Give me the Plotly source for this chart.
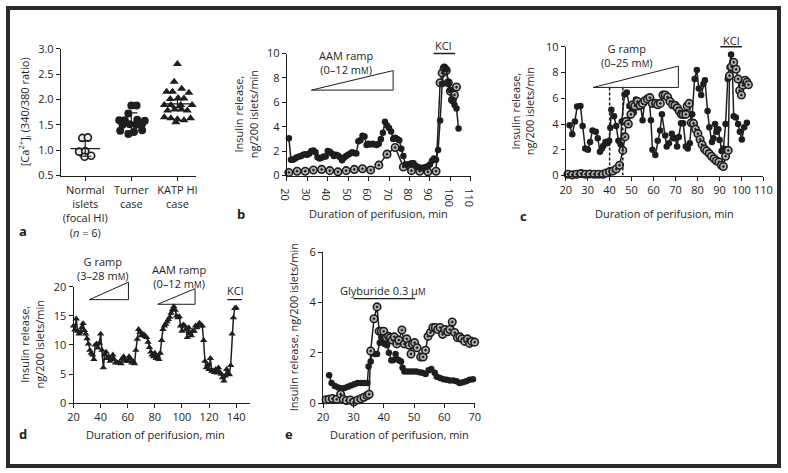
import plotly.graph_objects as go

W, H = 788, 473
INK = "#1e1e1e"
FONT = "Open Sans"

# ---------------- data ----------------
# panel a
a_categories = ["Normal<br>islets<br>(focal HI)<br>(<i>n</i> = 6)", "Turner<br>case", "KATP HI<br>case"]
a_normal = [1.24, 1.25, 0.97, 0.98, 0.87, 0.89]
a_normal_dx = [-0.064, 0.057, -0.134, 0.0, -0.014, 0.128]
a_turner = [1.88, 1.88, 1.72, 1.59, 1.59, 1.60, 1.58, 1.50, 1.51, 1.50, 1.52, 1.38, 1.36, 1.39, 1.32]
a_turner_dx = [0.0, 0.113, -0.064, -0.262, -0.142, 0.128, 0.291, -0.191, -0.035, 0.106, 0.234, -0.241, 0.057, 0.234, -0.064]
a_katp = [2.70, 2.35, 2.21, 2.15, 2.15, 2.13, 2.03, 2.02, 2.01, 1.89, 1.89, 1.89, 1.89,
          1.78, 1.80, 1.80, 1.78, 1.65, 1.63, 1.61, 1.59, 1.63, 1.55]
a_katp_dx = [0.0, -0.071, 0.092, -0.234, -0.106, 0.248, 0.014, 0.142, -0.156, -0.284, -0.142, 0.071, 0.319,
             -0.213, -0.057, 0.085, 0.213, -0.284, -0.142, 0.0, 0.142, 0.284, -0.035]
a_mean = [1.03, 1.545, 1.91]
a_bar_hi = [1.18, 1.735, 1.99]
a_bar_lo = [0.88, 1.375, 1.84]

# panel b
b_t_filled = list(range(21, 105))
b_filled = [3.05, 1.3, 1.3, 1.4, 1.5, 1.55, 1.6, 1.7, 1.75, 1.7,
            1.8, 2.0, 2.05, 1.9, 1.5, 1.4, 1.45, 1.55, 1.55, 2.0,
            1.95, 1.8, 1.6, 1.7, 1.65, 1.5, 1.25, 1.45, 1.6, 1.7,
            1.8, 1.9, 1.85, 1.8, 2.8, 2.9, 3.25, 3.2, 2.5, 2.6,
            2.55, 2.6, 2.55, 2.5, 2.6, 3.0, 3.5, 4.4, 4.1, 3.9,
            3.6, 3.0, 3.1, 3.0, 2.9, 2.2, 1.6, 0.9, 0.9, 0.95,
            1.0, 1.0, 0.8, 0.7, 0.65, 0.6, 0.65, 0.7, 0.75, 0.9,
            1.2, 1.4, 1.3, 2.1, 4.5, 7.5, 8.9, 8.7, 7.6, 7.0,
            6.2, 5.8, 5.5, 3.85]
b_t_open = [21, 25, 29, 33, 37, 41, 45, 49, 53, 57, 61, 65, 69, 73, 77, 81, 85, 89, 93,
            95, 96, 97, 98, 99, 100, 101, 102, 103]
b_open = [0.25, 0.35, 0.35, 0.45, 0.5, 0.4, 0.3, 0.4, 0.5, 0.55, 0.45, 0.85, 1.75, 2.3, 0.7, 0.4, 0.35, 0.3, 0.35,
          7.6, 8.4, 8.8, 8.6, 7.6, 6.9, 6.2, 6.6, 7.25]

# panel c
c_t_filled = [21.8, 23, 24.2, 25.2, 26.7, 27.7, 28.9, 30.1, 31.1, 32.2,
              33.7, 34.6, 35.6, 36.5, 37.1, 38.1, 39, 39.8, 40.3, 40.8,
              42, 43, 44, 45, 45.5, 46.8, 47.8, 49, 50, 51,
              52, 53, 54, 55, 56, 57, 58, 58.8, 59.5, 60.8,
              61.9, 63, 63.8, 65.3, 66, 67, 68.3, 69.2, 70, 70.7,
              71.5, 72.5, 73.5, 74.7, 75.6, 76.5, 77.6, 78.7, 79.7, 80.6,
              81.7, 82.7, 83.4, 84.6, 85.4, 86.6, 87.3, 88, 88.8, 89.5,
              90.1, 91, 91.8, 92.8, 93.8, 94.6, 95.3, 95.8, 96.5, 97.5,
              98.5, 99.3, 100.2, 101.3, 102.5]
c_filled = [3.9, 3.2, 4.2, 5.35, 5.4, 3.85, 2.1, 2.0, 2.6, 3.5,
            3.4, 2.9, 1.85, 2.1, 2.3, 2.6, 2.5, 2.7, 3.7, 5.1,
            4.6, 3.85, 2.7, 2.4, 4.2, 6.3, 6.45, 5.4, 5.3, 4.9,
            5.9, 5.3, 5.5, 4.3, 5.8, 5.9, 6.0, 4.3, 2.0, 1.6,
            2.7, 3.5, 4.75, 3.1, 2.25, 2.5, 3.25, 2.9, 2.9, 2.25,
            3.0, 4.05, 4.05, 2.25, 2.1, 2.5, 4.75, 7.5, 8.2, 6.75,
            6.25, 7.1, 7.4, 5.0, 3.75, 2.6, 2.9, 4.0, 3.4, 3.6,
            2.75, 1.9, 2.1, 4.0, 7.5, 8.4, 9.4, 8.75, 4.6, 4.5,
            4.0, 3.4, 2.8, 3.75, 4.1]
c_t_open = [21, 23, 25, 27, 29, 31, 33, 35, 37, 38.5,
            40, 41.5, 43, 44.5, 46, 47, 47.5, 48.5, 49.7, 50.5,
            51.5, 52.7, 53.9, 55, 56, 57.2, 58.3, 59.4, 60.9, 61.9,
            63.1, 64.3, 65.3, 66.4, 67.5, 68.7, 69.8, 70.8, 71.7, 72.7,
            73.5, 74.7, 75.3, 76.2, 77.2, 78.2, 79.1, 80.2, 81.2, 82.1,
            83.2, 84.2, 85.4, 86.4, 87.6, 88.6, 89.8, 90.9, 91.8, 92.8,
            94, 94.6, 95.5, 96.5, 97.6, 98.5, 99.2, 100, 100.7, 101.7,
            102.5, 103.2]
c_open = [0.1, 0.05, 0.1, 0.15, 0.1, 0.12, 0.1, 0.1, 0.1, 0.2,
          0.3, 0.35, 0.5, 0.8, 1.95, 3.0, 4.2, 4.0, 4.75, 5.5,
          5.4, 5.75, 5.45, 5.6, 5.8, 5.95, 6.05, 5.6, 5.6, 5.5,
          5.6, 6.25, 6.25, 6.1, 5.75, 5.5, 5.45, 5.25, 5.0, 4.75,
          4.75, 4.75, 5.4, 5.6, 4.1, 4.05, 3.6, 3.25, 2.8, 2.4,
          2.05, 1.9, 1.7, 1.5, 1.3, 1.15, 1.05, 0.8, 0.7, 1.5,
          1.95, 7.75, 8.45, 8.8, 8.25, 7.5, 6.6, 6.25, 7.0, 7.4,
          7.25, 7.05]

# panel d
d_t = list(range(20, 141))
d_vals = [13.3, 12.6, 14.5, 12.4, 11.9, 12.2, 13.0, 13.7, 12.5, 11.9,
          11.1, 10.2, 9.1, 8.6, 8.3, 7.5, 10.0, 10.2, 9.5, 10.3,
          11.9, 9.1, 6.1, 8.3, 8.8, 7.7, 8.0, 7.2, 7.5, 8.3,
          7.5, 6.9, 7.0, 6.9, 7.0, 6.8, 7.7, 8.0, 7.4, 7.2,
          7.2, 8.0, 7.6, 6.9, 7.2, 6.8, 9.1, 11.0, 12.7, 12.2,
          11.6, 11.9, 11.8, 11.5, 11.3, 10.5, 9.6, 8.8, 8.3, 8.0,
          8.6, 7.7, 8.0, 7.5, 8.6, 10.8, 12.7, 13.3, 13.6, 14.0,
          14.4, 14.8, 15.5, 16.1, 16.6, 16.0, 15.0, 14.7, 14.9, 13.3,
          12.4, 13.5, 13.3, 12.7, 11.3, 13.0, 12.0, 11.6, 12.4, 12.4,
          13.3, 13.0, 13.5, 13.8, 13.3, 13.3, 10.8, 7.2, 6.1, 6.6,
          5.8, 7.7, 5.5, 5.6, 5.3, 5.8, 5.2, 6.1, 5.3, 5.0,
          4.4, 3.8, 4.7, 5.8, 5.2, 4.9, 6.5, 11.9, 14.7, 16.3,
          16.4]

# panel e
e_t_filled = [22, 22.8, 23.9, 25, 26, 27.1, 28.2, 29.2, 30.3, 31.4,
              32.5, 33.5, 34.6, 35, 35.7, 36.2, 37.1, 37.8, 38.7, 39.2,
              39.8, 40.3, 41.1, 41.7, 42.5, 43, 43.9, 44.3, 45, 45.7,
              46.2, 46.8, 47.8, 48.8, 49.8, 50.8, 51.8, 52.7, 53.8, 54.8,
              55.7, 56.8, 57.5, 58.6, 59.7, 60.8, 61.8, 63, 64, 65,
              66.1, 67.2, 68.3, 69.4, 70.1]
e_filled = [1.1, 0.8, 0.68, 0.62, 0.58, 0.6, 0.65, 0.7, 0.75, 0.8,
            0.8, 0.8, 0.8, 1.45, 1.65, 2.0, 1.95, 1.95, 2.4, 2.6,
            2.45, 2.35, 2.3, 2.0, 1.7, 1.7, 1.95, 1.75, 1.7, 1.65,
            1.4, 1.25, 1.25, 1.25, 1.25, 1.25, 1.22, 1.2, 1.15, 1.3,
            1.35, 1.2, 1.05, 1.0, 0.95, 0.93, 0.9, 0.9, 0.87, 0.8,
            0.83, 0.87, 0.93, 0.95, 0.9]
e_t_open = [21, 22, 23.1, 24.5, 25.8, 26.7, 27.7, 29, 30.1, 31.4,
            32.5, 33.5, 34.6, 35.2, 35.7, 36.8, 37.8, 38.5, 39.2, 40,
            40.9, 41.6, 42.2, 42.8, 43.5, 44.3, 45, 46, 46.8, 47.6,
            48.4, 49, 49.5, 50.2, 51, 52.2, 53, 53.8, 54.6, 55.4,
            56.2, 57, 57.8, 58.6, 59.4, 60.2, 61.1, 61.8, 62.6, 63.4,
            64.3, 65.1, 65.8, 66.7, 67.6, 68.3, 69, 70]
e_open = [0.13, 0.15, 0.18, 0.15, 0.35, 0.15, 0.1, 0.12, 0.04, 0.12,
          0.17, 0.23, 0.3, 0.35, 2.07, 3.35, 3.82, 2.85, 2.85, 2.85,
          2.6, 2.65, 2.6, 2.5, 2.63, 2.35, 2.5, 2.9, 2.35, 2.55,
          2.3, 1.95, 2.35, 2.4, 2.2, 1.83, 1.83, 2.1, 2.65, 2.8,
          3.0, 3.0, 2.92, 3.0, 2.73, 2.92, 2.83, 2.92, 3.22, 2.8,
          2.6, 2.63, 2.55, 2.45, 2.55, 2.37, 2.45, 2.42]

# stimulus annotations (data units)
b_ramp = dict(x0=32, x1=72, y0=7.0, y1=8.6)
b_kcl = dict(x0=91.8, x1=102.3, y=10.0)
c_ramp = dict(x0=32.5, x1=71.3, y0=6.84, y1=8.5)
c_kcl = dict(x0=90.4, x1=100.2, y=10.0)
c_dash_x = [40, 46]
c_dash_top = 7.0
d_gramp = dict(x0=31.6, x1=60.5, y0=17.8, y1=20.8)
d_aamramp = dict(x0=82.2, x1=109.7, y0=17.0, y1=19.7)
d_kcl = dict(x0=133.5, x1=144.3, y=17.8)
e_gly = dict(x0=30, x1=50.3, y=4.15)

# ---------------- helpers ----------------
def PX(p):
    return p / W

def PY(p):
    return 1 - p / H

MM = "m<span style='font-size:8.5px'>M</span>"

ranges = {
    "y": [0.5, 3.0], "y2": [0, 10], "y3": [0, 10], "y4": [0, 20], "y5": [0, 6],
}

def fr(v, ax):
    lo, hi = ranges[ax]
    return (v - lo) / (hi - lo)

fig = go.Figure()

filled_m = dict(symbol="circle", size=6.5, color=INK, line=dict(width=0))
open_m = dict(symbol="circle-dot", size=7.5, color="#b4b4b4", line=dict(color=INK, width=1.6))
line_s = dict(color=INK, width=1.5)

# ---- panel a ----
fig.add_trace(go.Scatter(x=[0 + d for d in a_normal_dx], y=a_normal, mode="markers",
                         marker=dict(symbol="circle", size=7, color="#eeeeee", line=dict(color=INK, width=1.7)),
                         xaxis="x", yaxis="y", cliponaxis=False, showlegend=False))
fig.add_trace(go.Scatter(x=[1 + d for d in a_turner_dx], y=a_turner, mode="markers",
                         marker=dict(symbol="circle", size=8, color=INK),
                         xaxis="x", yaxis="y", cliponaxis=False, showlegend=False))
fig.add_trace(go.Scatter(x=[2 + d for d in a_katp_dx], y=a_katp, mode="markers",
                         marker=dict(symbol="triangle-up", size=8, color=INK),
                         xaxis="x", yaxis="y", cliponaxis=False, showlegend=False))
mx, my = [], []
for i, m in enumerate(a_mean):
    mx += [i - 0.32, i + 0.32, None]
    my += [m, m, None]
fig.add_trace(go.Scatter(x=mx, y=my, mode="lines", line=dict(color=INK, width=1.2),
                         xaxis="x", yaxis="y", showlegend=False, hoverinfo="skip"))
fig.add_trace(go.Scatter(x=[0, 1, 2], y=a_mean, mode="markers",
                         marker=dict(size=1, color="rgba(0,0,0,0)"),
                         error_y=dict(type="data", symmetric=False,
                                      array=[h - m for h, m in zip(a_bar_hi, a_mean)],
                                      arrayminus=[m - l for l, m in zip(a_bar_lo, a_mean)],
                                      width=6, thickness=1.2, color=INK),
                         xaxis="x", yaxis="y", showlegend=False, hoverinfo="skip"))

# ---- panel b ----
fig.add_trace(go.Scatter(x=b_t_open, y=b_open, mode="lines+markers", line=line_s, marker=open_m,
                         xaxis="x2", yaxis="y2", cliponaxis=False, showlegend=False))
fig.add_trace(go.Scatter(x=b_t_filled, y=b_filled, mode="lines+markers", line=line_s, marker=filled_m,
                         xaxis="x2", yaxis="y2", cliponaxis=False, showlegend=False))

# ---- panel c ----
fig.add_trace(go.Scatter(x=c_t_filled, y=c_filled, mode="lines+markers", line=line_s, marker=filled_m,
                         xaxis="x3", yaxis="y3", cliponaxis=False, showlegend=False))
fig.add_trace(go.Scatter(x=c_t_open, y=c_open, mode="lines+markers", line=line_s, marker=open_m,
                         xaxis="x3", yaxis="y3", cliponaxis=False, showlegend=False))

# ---- panel d ----
fig.add_trace(go.Scatter(x=d_t, y=d_vals, mode="lines+markers", line=line_s,
                         marker=dict(symbol="triangle-up", size=6.5, color=INK),
                         xaxis="x4", yaxis="y4", cliponaxis=False, showlegend=False))

# ---- panel e ----
fig.add_trace(go.Scatter(x=e_t_filled, y=e_filled, mode="lines+markers", line=line_s, marker=filled_m,
                         xaxis="x5", yaxis="y5", cliponaxis=False, showlegend=False))
fig.add_trace(go.Scatter(x=e_t_open, y=e_open, mode="lines+markers", line=line_s, marker=open_m,
                         xaxis="x5", yaxis="y5", cliponaxis=False, showlegend=False))

# ---------------- axes ----------------
common = dict(showline=True, linecolor=INK, linewidth=1, ticks="outside", ticklen=4, tickwidth=1,
              tickcolor=INK, showgrid=False, zeroline=False,
              tickfont=dict(family=FONT, size=11, color=INK))

fig.update_layout(
    xaxis=dict(common, domain=[PX(54), PX(192)], range=[-0.53, 2.4], tickvals=[0, 1, 2],
               ticktext=a_categories, anchor="y"),
    yaxis=dict(common, domain=[PY(173), PY(42)], range=ranges["y"], tickvals=[0.5, 1.0, 1.5, 2.0, 2.5, 3.0],
               tickformat=".1f", anchor="x"),
    xaxis2=dict(common, domain=[PX(285), PX(473)], range=[20, 110], dtick=10, tick0=20, anchor="y2"),
    yaxis2=dict(common, domain=[PY(173), PY(47)], range=ranges["y2"], dtick=2, anchor="x2"),
    xaxis3=dict(common, domain=[PX(570), PX(772)], range=[20, 110], dtick=10, tick0=20, anchor="y3"),
    yaxis3=dict(common, domain=[PY(173), PY(40)], range=ranges["y3"], dtick=2, anchor="x3"),
    xaxis4=dict(common, domain=[PX(67), PX(247)], range=[20, 150],
                tickvals=[20, 40, 60, 80, 100, 120, 140], anchor="y4"),
    yaxis4=dict(common, domain=[PY(408), PY(288)], range=ranges["y4"], dtick=5, anchor="x4"),
    xaxis5=dict(common, domain=[PX(322), PX(477)], range=[20, 70], dtick=10, tick0=20, anchor="y5"),
    yaxis5=dict(common, domain=[PY(408), PY(252)], range=ranges["y5"], dtick=2, anchor="x5"),
)

# ---------------- shapes ----------------
shapes = []
def tri(r, xa, ya):
    y0, y1 = fr(r["y0"], ya), fr(r["y1"], ya)
    return dict(type="path", xref=xa, yref=ya + " domain",
                path=f"M {r['x0']},{y0} L {r['x1']},{y0} L {r['x1']},{y1} Z",
                line=dict(color=INK, width=1), fillcolor="rgba(0,0,0,0)")

def bar(r, xa, ya):
    y = fr(r["y"], ya)
    return dict(type="line", xref=xa, yref=ya + " domain", x0=r["x0"], x1=r["x1"], y0=y, y1=y,
                line=dict(color=INK, width=1.3))

shapes.append(tri(b_ramp, "x2", "y2"))
shapes.append(bar(b_kcl, "x2", "y2"))
shapes.append(tri(c_ramp, "x3", "y3"))
shapes.append(bar(c_kcl, "x3", "y3"))
for xd in c_dash_x:
    shapes.append(dict(type="line", xref="x3", yref="y3", x0=xd, x1=xd, y0=0, y1=c_dash_top,
                       line=dict(color=INK, width=1.5, dash="3px,2px")))
shapes.append(tri(d_gramp, "x4", "y4"))
shapes.append(tri(d_aamramp, "x4", "y4"))
shapes.append(bar(d_kcl, "x4", "y4"))
shapes.append(bar(e_gly, "x5", "y5"))
shapes.append(dict(type="rect", xref="paper", yref="paper", x0=0, y0=0, x1=1, y1=1,
                   line=dict(color="#2a2a2a", width=4), fillcolor="rgba(0,0,0,0)"))
fig.update_layout(shapes=shapes)

# ---------------- annotations ----------------
ann = []
def txt(text, x, y, xref="paper", yref="paper", size=11, angle=0, bold=False):
    ann.append(dict(text=("<b>%s</b>" % text) if bold else text, x=x, y=y, xref=xref, yref=yref,
                    showarrow=False, textangle=angle, xanchor="center", yanchor="middle",
                    font=dict(family=FONT, size=size, color=INK)))

YT = "Insulin release,<br>ng/200 islets/min"
txt("[Ca<sup>2+</sup>]<sub>i</sub> (340/380 ratio)", PX(17), PY(107), angle=-90)
txt(YT, PX(243), PY(110), angle=-90)
txt(YT, PX(526), PY(107), angle=-90)
txt(YT, PX(25), PY(347), angle=-90)
txt("Insulin release, ng/200 islets/min", PX(292), PY(330), angle=-90)

XT = "Duration of perifusion, min"
txt(XT, PX(379), PY(212))
txt(XT, PX(671), PY(212))
txt(XT, PX(151), PY(440))
txt(XT, PX(400), PY(440))

txt("a", PX(15), PY(230), size=13, bold=True)
txt("b", PX(238), PY(213), size=13, bold=True)
txt("c", PX(527), PY(215), size=13, bold=True)
txt("d", PX(15), PY(440), size=13, bold=True)
txt("e", PX(287), PY(440), size=13, bold=True)

# stimulus labels (data x, domain y)
txt("AAM ramp<br>(0–12 %s)" % MM, 48.7, fr(9.25, "y2"), xref="x2", yref="y2 domain")
txt("KCl", 96.6, fr(10.63, "y2"), xref="x2", yref="y2 domain")
txt("G ramp<br>(0–25 %s)" % MM, 48.1, fr(9.32, "y3"), xref="x3", yref="y3 domain")
txt("KCl", 95.3, fr(10.5, "y3"), xref="x3", yref="y3 domain")
txt("G ramp<br>(3–28 %s)" % MM, 41.7, fr(23.1, "y4"), xref="x4", yref="y4 domain")
txt("AAM ramp<br>(0–12 %s)" % MM, 98.1, fr(21.7, "y4"), xref="x4", yref="y4 domain")
txt("KCl", 139.3, fr(19.3, "y4"), xref="x4", yref="y4 domain")
txt("Glyburide 0.3 µ<span style='font-size:8.5px'>M</span>", 39.7, fr(4.46, "y5"), xref="x5", yref="y5 domain")

fig.update_layout(annotations=ann)

fig.update_layout(width=W, height=H, margin=dict(l=0, r=0, t=0, b=0),
                  paper_bgcolor="white", plot_bgcolor="white",
                  font=dict(family=FONT, size=11, color=INK), showlegend=False)

fig.write_html("out.html", config={"displayModeBar": False},
               post_script="document.body.style.margin='0';document.body.style.overflow='hidden';")
